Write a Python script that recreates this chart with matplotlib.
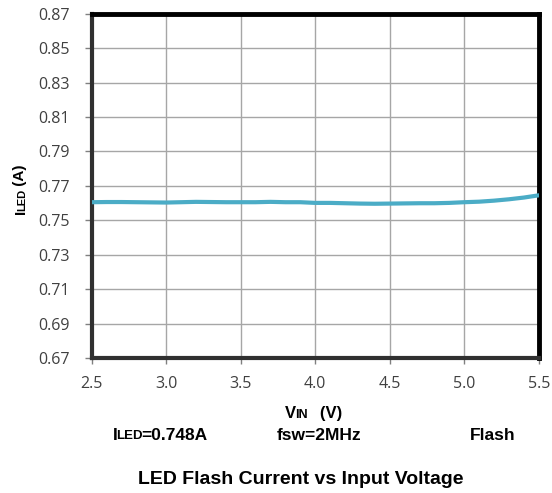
import matplotlib
matplotlib.use("Agg")
import matplotlib.pyplot as plt

# LED flash current vs input voltage
vin = [2.5, 2.6, 2.7, 2.8, 2.9, 3.0, 3.1, 3.2, 3.3, 3.4, 3.5, 3.6, 3.7, 3.8,
       3.9, 4.0, 4.1, 4.2, 4.3, 4.4, 4.5, 4.6, 4.7, 4.8, 4.9, 5.0, 5.1, 5.2,
       5.3, 5.4, 5.5]
iled = [0.7605, 0.7606, 0.7606, 0.7605, 0.7604, 0.7603, 0.7605, 0.7607, 0.7606,
        0.7605, 0.7605, 0.7605, 0.7607, 0.7605, 0.7605, 0.7601, 0.7601, 0.7599,
        0.7597, 0.7596, 0.7597, 0.7598, 0.7599, 0.7599, 0.7601, 0.7605, 0.7608,
        0.7614, 0.7622, 0.7632, 0.7645]

x_ticks = [2.5, 3.0, 3.5, 4.0, 4.5, 5.0, 5.5]
y_ticks = [0.67, 0.69, 0.71, 0.73, 0.75, 0.77, 0.79, 0.81, 0.83, 0.85, 0.87]

fig = plt.figure(figsize=(5.52, 4.93), dpi=100)
ax = fig.add_axes([0.166, 0.274, 0.810, 0.698])

ax.plot(vin, iled, color="#4bacc6", lw=3, solid_capstyle="round", zorder=3)

ax.set_xlim(2.5, 5.5)
ax.set_ylim(0.67, 0.87)
ax.set_xticks(x_ticks)
ax.set_xticklabels([f"{v:.1f}" for v in x_ticks])
ax.set_yticks(y_ticks)
ax.set_yticklabels([f"{v:.2f}" for v in y_ticks])
ax.grid(True, color="#a6a6a6", lw=1)
ax.set_axisbelow(True)

for lab in ax.get_xticklabels() + ax.get_yticklabels():
    lab.set_fontfamily("Open Sans")
    lab.set_fontsize(11.5)
    lab.set_color("#404040")
ax.tick_params(axis="y", length=5, width=1, color="#808080", pad=11)
ax.tick_params(axis="x", length=4, width=1, color="#808080", pad=9)

for side in ["top", "right"]:
    ax.spines[side].set_linewidth(3.5)
    ax.spines[side].set_color("black")
for side in ["left", "bottom"]:
    ax.spines[side].set_linewidth(3)
    ax.spines[side].set_color("#303030")

bold = dict(family="Liberation Sans", fontweight="bold", color="black")
DESC = 0.21  # descent of "lp" in em, Liberation Sans


def chain(parts, x, y, rotation=0):
    """Place text pieces of different sizes one after another on a shared baseline."""
    first_txt, first_size = parts[0]
    t = fig.text(x, y, first_txt, fontsize=first_size, rotation=rotation,
                 ha="left", va="bottom", **bold)
    prev = first_size
    for txt, size in parts[1:]:
        if rotation:
            t = ax.annotate(txt, xy=(1, 1), xycoords=t,
                            xytext=(-DESC * prev, -1), textcoords="offset points",
                            fontsize=size, rotation=90, rotation_mode="anchor",
                            ha="left", va="baseline", annotation_clip=False, **bold)
        else:
            t = ax.annotate(txt, xy=(1, 0), xycoords=t,
                            xytext=(-1, DESC * prev), textcoords="offset points",
                            fontsize=size, ha="left", va="baseline",
                            annotation_clip=False, **bold)
        prev = size
    return t


# y label: I_LED (A)
chain([("I", 11), ("LED", 8), (" (A)", 11)], 14 / 552, 1 - 214 / 493, rotation=90)
# x label: V_IN  (V)
chain([("V", 12), ("IN", 9), ("   (V)", 12)], 285 / 552, 1 - 421 / 493)
# conditions row
chain([("I", 12.5), ("LED", 9.5), ("=0.748A", 12.5)], 113 / 552, 1 - 443 / 493)
fig.text(277 / 552, 1 - 443 / 493, "fsw=2MHz", fontsize=12.5, ha="left", va="bottom", **bold)
fig.text(470 / 552, 1 - 443 / 493, "Flash", fontsize=12.5, ha="left", va="bottom", **bold)

fig.text(301 / 552, 1 - 480 / 493, "LED Flash Current vs Input Voltage",
         fontsize=14, ha="center", va="center", **bold)

fig.savefig("out.png", dpi=100)
